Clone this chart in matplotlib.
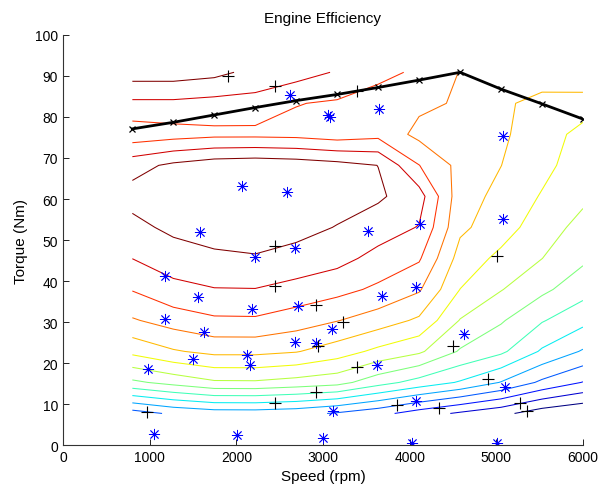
import numpy as np
import matplotlib
matplotlib.use("Agg")
import matplotlib.pyplot as plt

plt.rcParams['font.family'] = ['Liberation Sans', 'DejaVu Sans']

# map grid: speed (rpm) x torque (Nm)
speed = np.linspace(800, 6000, 12)
torque = np.linspace(7.7, 90.9, 12)

# efficiency (%), one row per speed, low -> high torque
eff_800 = [22.55, 26.8, 29.27, 30.9, 32.06, 33.01, 33.67, 34.4, 33.62, 31.4, 32.8, 34.49]
eff_1273 = [23.17, 27.33, 29.9, 31.43, 32.77, 33.42, 34.27, 34.6, 34.21, 31.59, 32.8, 34.49]
eff_1745 = [23.48, 27.85, 30.26, 31.84, 32.95, 33.9, 34.23, 34.8, 34.58, 31.75, 32.66, 34.28]
eff_2218 = [23.5, 27.87, 30.26, 31.86, 32.97, 33.95, 34.3, 34.85, 34.69, 31.75, 32.63, 33.7]
eff_2691 = [23.34, 27.63, 30.06, 31.48, 32.69, 33.6, 34.38, 34.8, 34.57, 31.7, 32.04, 33.43]
eff_3164 = [22.89, 27.36, 29.5, 31.04, 32.32, 33.33, 33.95, 34.5, 34.34, 31.47, 31.88, 32.91]
eff_3636 = [22.33, 26.4, 28.75, 30.52, 31.81, 32.68, 33.48, 34.15, 33.99, 31.7, 31.6, 32.25]
eff_4109 = [21.51, 25.62, 28.17, 29.83, 31.12, 32.12, 32.95, 33.44, 32.02, 30.73, 31.2, 31.85]
eff_4582 = [20.84, 24.9, 26.9, 27.95, 28.99, 29.6, 30.2, 30.4, 30.7, 30.85, 30.9, 30.96]
eff_5055 = [20.27, 23.95, 26.2, 27.11, 28.05, 28.75, 29.46, 29.75, 30.01, 30.15, 30.25, 30.6]
eff_5527 = [19.45, 22.8, 24.87, 26.08, 27.23, 28.01, 28.46, 28.92, 29.3, 29.5, 29.55, 30.8]
eff_6000 = [19.04, 21.96, 23.9, 25.3, 26.39, 27.19, 27.69, 28.2, 28.46, 28.67, 29.52, 30.87]

levels = np.arange(20, 35)

# max torque curve
max_torque = [77.1, 78.7, 80.5, 82.3, 84.0, 85.5, 87.2, 89.0, 90.9, 86.8, 83.2, 79.5]

# measured points (blue *) and other points (black +)
star_speed = [2619, 3060, 3085, 3650, 5081, 2062, 2581, 1581, 3523, 4119, 5081, 2677,
              2215, 1177, 1562, 2177, 2715, 3677, 4069, 1177, 1627, 3100, 2677, 2919,
              4627, 1504, 2119, 2158, 985, 3619, 5100, 3111, 4073, 1054, 2004, 3004,
              4023, 5004]
star_torque = [85.4, 80.5, 80.0, 82.0, 75.4, 63.2, 61.8, 51.9, 52.3, 53.9, 55.1, 48.0,
               45.8, 41.3, 36.0, 33.2, 34.0, 36.3, 38.6, 30.7, 27.5, 28.3, 25.2, 24.8,
               27.1, 21.1, 22.0, 19.5, 18.5, 19.5, 14.1, 8.4, 10.7, 2.7, 2.4, 1.7,
               0.5, 0.5]

plus_speed = [1908, 2446, 3389, 2446, 2446, 2919, 3227, 2946, 3389, 2919, 2446, 965,
              5004, 4504, 4907, 3850, 4342, 5273, 5350]
plus_torque = [90.1, 87.5, 86.3, 48.5, 38.9, 34.2, 29.9, 24.1, 19.1, 13.0, 10.2, 8.0,
               46.2, 24.1, 16.1, 9.8, 9.0, 10.2, 8.2]

eff = np.array([eff_800, eff_1273, eff_1745, eff_2218, eff_2691, eff_3164,
                eff_3636, eff_4109, eff_4582, eff_5055, eff_5527, eff_6000])

fig = plt.figure(figsize=(5.99, 4.89), dpi=100)
ax = fig.add_axes([0.1052, 0.0879, 0.868, 0.8385])

ax.contour(speed, torque, eff.T, levels=levels, cmap='jet', vmin=20, vmax=34,
           linewidths=0.75)

ax.plot(speed, max_torque, color='black', lw=2, marker='x', ms=4.5, mew=0.9)
ax.plot(star_speed, star_torque, ls='none', marker=(8, 2, 0), ms=8, mew=0.6,
        color='blue')
ax.plot(plus_speed, plus_torque, ls='none', marker='+', ms=8, mew=0.8,
        color='black')

ax.set_xlim(0, 6000)
ax.set_ylim(0, 100)
ax.set_xticks(np.arange(0, 6001, 1000))
ax.set_yticks(np.arange(0, 101, 10))
ax.tick_params(direction='in', length=4, labelsize=10, width=0.7,
               colors='#222222', labelcolor='black')
for s in ['top', 'right']:
    ax.spines[s].set_visible(False)
for s in ['left', 'bottom']:
    ax.spines[s].set_linewidth(0.8)
    ax.spines[s].set_color('#333333')

ax.set_title('Engine Efficiency', fontsize=11, pad=9)
ax.set_xlabel('Speed (rpm)', fontsize=11, labelpad=4)
ax.set_ylabel('Torque (Nm)', fontsize=11, labelpad=5)

fig.savefig('out.png', dpi=100)
